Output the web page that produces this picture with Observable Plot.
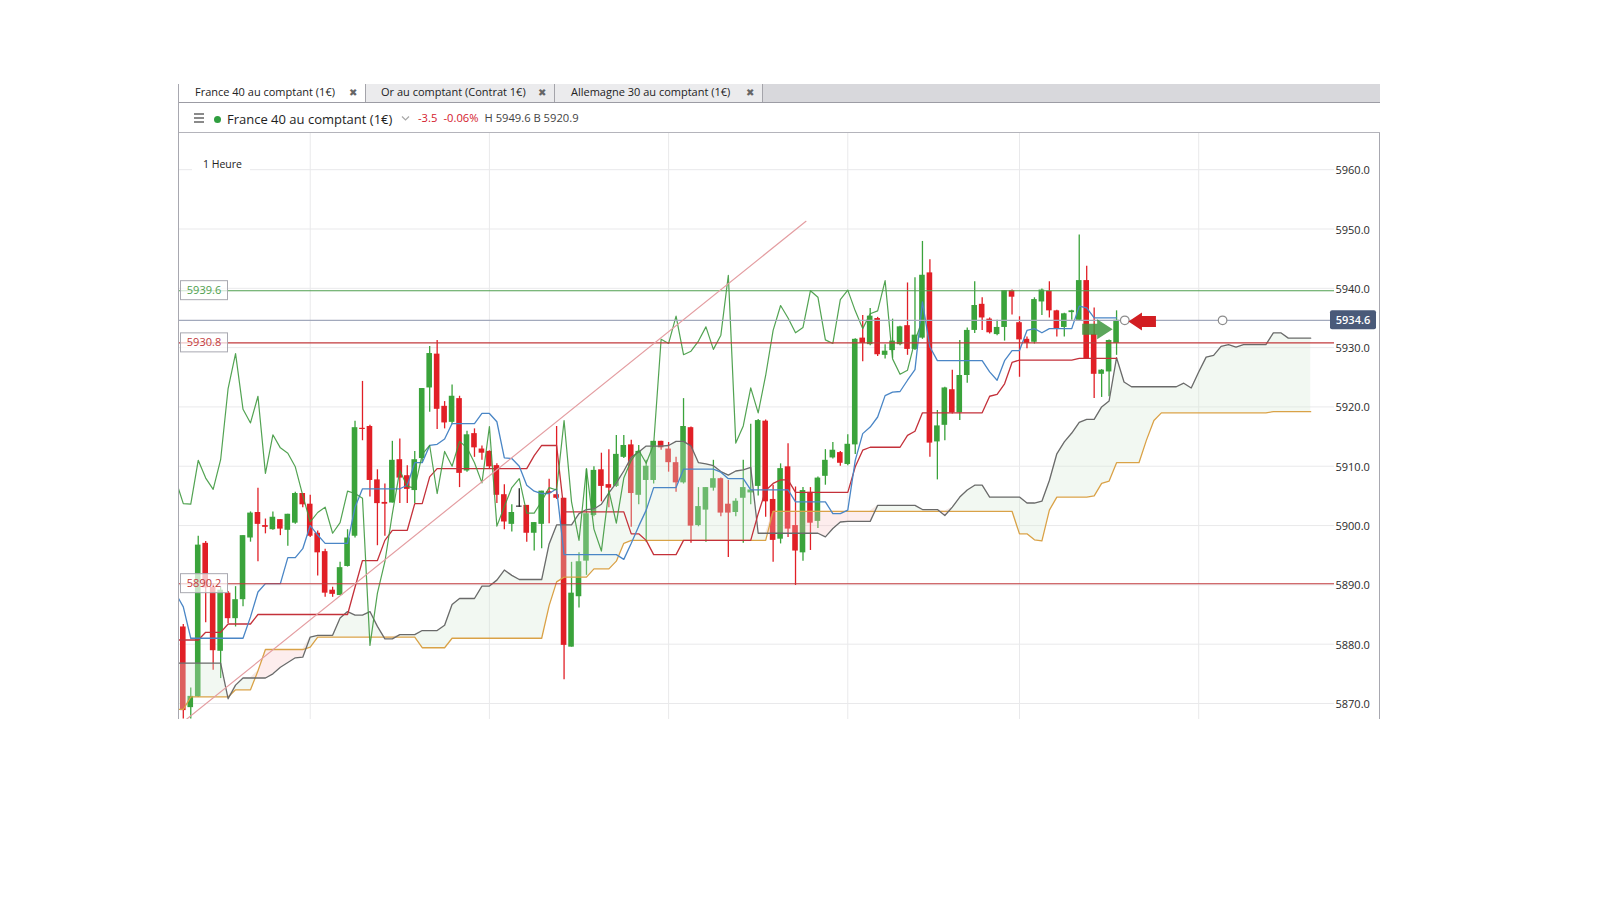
<!DOCTYPE html>
<html>
<head>
<meta charset="utf-8">
<script src="https://cdn.jsdelivr.net/npm/d3@7"></script>
<script src="https://cdn.jsdelivr.net/npm/@observablehq/plot@0.6"></script>
<style>
  html, body { margin: 0; padding: 0; background: #fff; }
  body { font-family: "Open Sans", "Noto Sans", sans-serif; }
  #page { position: relative; width: 1600px; height: 900px; overflow: hidden; background: #fff; }
  .abs { position: absolute; }
  #tabbar { left: 179px; top: 84px; width: 1201px; height: 18px; background: #d8d8dc; border-bottom: 1px solid #9c9ca4; box-sizing: content-box; }
  .tab { position: absolute; top: 0; height: 18px; background: #ebebed; border-right: 1px solid #a4a4aa; box-sizing: border-box; }
  .tab.active { background: #fff; }
  .tab .lbl { position: absolute; top: -1px; line-height: 18px; font-size: 11px; color: #222; white-space: nowrap; }
  .tab .x { position: absolute; top: 0; line-height: 18px; font-size: 10px; font-weight: bold; color: #666; font-family: "DejaVu Sans", sans-serif; }
  .hdr { position: absolute; white-space: nowrap; line-height: 18px; height: 18px; }
  #vleft { left: 178px; top: 84px; width: 1px; height: 635px; background: #a8a8b0; }
  #vright { left: 1379px; top: 132px; width: 1px; height: 587px; background: #a8a8b0; }
  #htop { left: 179px; top: 132px; width: 1201px; height: 1px; background: #b4b4bb; }
  #chart { left: 179px; top: 133px; }
  #period { left: 192px; top: 153px; width: 58px; height: 22px; background: #fff; font-size: 10.5px; line-height: 22px; color: #222; padding-left: 11px; box-sizing: border-box; }
</style>
</head>
<body>
<div id="page">
  <div id="tabbar" class="abs">
    <div class="tab active" style="left:0;width:187px;"><span class="lbl" style="left:16px;">France 40 au comptant (1€)</span><span class="x" style="left:170px;">✖</span></div>
    <div class="tab" style="left:187px;width:189px;"><span class="lbl" style="left:15px;">Or au comptant (Contrat 1€)</span><span class="x" style="left:172px;">✖</span></div>
    <div class="tab" style="left:376px;width:208px;"><span class="lbl" style="left:16px;">Allemagne 30 au comptant (1€)</span><span class="x" style="left:191px;">✖</span></div>
  </div>
  <div id="vleft" class="abs"></div>
  <div id="vright" class="abs"></div>
  <div id="htop" class="abs"></div>

  <!-- instrument header -->
  <div class="abs" style="left:194px;top:113px;width:10px;height:2px;background:#8a8a8a;"></div>
  <div class="abs" style="left:194px;top:117px;width:10px;height:2px;background:#8a8a8a;"></div>
  <div class="abs" style="left:194px;top:121px;width:10px;height:2px;background:#8a8a8a;"></div>
  <div class="abs" style="left:213.5px;top:115.5px;width:7.5px;height:7.5px;border-radius:50%;background:#2f9e3f;"></div>
  <div id="title" class="hdr" style="left:227px;top:110px;font-size:13px;color:#1e1e1e;">France 40 au comptant (1€)</div>
  <svg class="abs" style="left:401px;top:115px;" width="9" height="7"><path d="M1,1.5 L4.5,5 L8,1.5" fill="none" stroke="#a8a8a8" stroke-width="1.2"/></svg>
  <div class="hdr" style="left:418px;top:109px;font-size:11.2px;color:#d4202c;">-3.5</div>
  <div class="hdr" style="left:443.5px;top:109px;font-size:11.2px;color:#d4202c;">-0.06%</div>
  <div class="hdr" style="left:484.5px;top:109px;font-size:11.2px;color:#444;">H 5949.6 B 5920.9</div>

  <div id="chart" class="abs"></div>
  <div id="period" class="abs">1 Heure</div>
</div>

<script>
// ---------------- DATA ----------------
// Hourly candles, index 0 = leftmost visible candle
const open = [
  5882.9,5869.3,5871.1,5897.0,5889.6,5878.8,5888.6,5884.3,5887.5,5897.9,
  5902.2,5900.0,5899.3,5901.0,5899.2,5900.4,5905.4,5903.6,5898.7,5895.6,
  5889.1,5888.2,5893.1,5898.2,5916.4,5916.7,5907.7,5903.9,5903.8,5911.1,
  5908.4,5905.9,5911.3,5923.2,5928.9,5920.1,5917.4,5921.4,5909.2,5915.5,
  5912.9,5912.5,5910.1,5905.2,5900.2,5903.1,5903.4,5898.7,5900.2,5905.7,
  5905.2,5904.6,5879.5,5888.0,5894.0,5901.7,5909.4,5906.9,5906.6,5911.5,
  5913.6,5905.1,5907.6,5907.6,5914.2,5912.9,5910.6,5907.2,5916.5,5900.0,
  5902.6,5906.3,5907.9,5903.6,5902.2,5904.6,5905.5,5906.6,5917.6,5904.4,
  5897.7,5909.9,5900.0,5895.4,5905.6,5900.7,5908.3,5911.4,5912.3,5910.3,
  5913.6,5931.6,5930.5,5934.9,5928.7,5929.5,5930.5,5933.7,5929.7,5931.6,
  5942.6,5914.1,5916.9,5922.9,5919.0,5925.3,5932.9,5937.3,5934.8,5932.2,
  5933.4,5939.6,5934.2,5931.4,5930.9,5937.7,5939.5,5936.2,5933.4,5935.9,
  5934.6,5941.3,5932.2,5925.5,5925.9,5930.7
];
const high = [
  5883.3,5872.6,5898.2,5897.3,5890.2,5889.6,5888.9,5889.7,5898.3,5902.3,
  5906.3,5901.1,5902.3,5901.0,5901.9,5905.6,5905.4,5905.1,5899.1,5896.0,
  5889.6,5893.8,5899.3,5917.6,5924.3,5916.9,5909.4,5907.0,5914.2,5914.6,
  5910.1,5912.5,5923.1,5930.2,5931.2,5920.9,5923.7,5921.8,5915.9,5916.3,
  5913.4,5912.6,5910.4,5906.9,5903.5,5906.2,5903.4,5900.5,5905.8,5907.8,
  5916.7,5904.6,5893.8,5895.4,5909.5,5909.9,5912.2,5912.8,5915.2,5915.2,
  5914.4,5913.5,5911.0,5914.2,5914.2,5914.0,5911.5,5921.4,5916.6,5906.4,
  5906.4,5911.0,5908.0,5907.6,5904.5,5911.0,5917.1,5917.9,5917.8,5906.8,
  5910.4,5913.8,5906.5,5906.4,5906.4,5908.2,5912.8,5914.0,5912.5,5915.3,
  5931.5,5935.4,5936.6,5935.1,5930.5,5934.8,5933.6,5940.9,5941.8,5947.9,
  5944.8,5919.4,5923.3,5926.2,5931.2,5933.3,5941.1,5938.4,5935.0,5934.6,
  5939.6,5939.7,5935.2,5931.8,5938.4,5939.9,5941.1,5936.3,5935.8,5936.3,
  5949.0,5943.7,5936.7,5926.3,5931.3,5936.2
];
const low = [
  5867.4,5867.4,5871.0,5883.6,5875.6,5874.2,5883.5,5882.9,5886.3,5897.2,
  5893.9,5898.6,5899.2,5898.3,5896.5,5900.2,5903.0,5898.0,5891.5,5887.9,
  5887.9,5888.2,5893.0,5897.9,5914.3,5904.8,5896.6,5898.2,5903.8,5903.7,
  5903.7,5903.7,5910.5,5919.1,5916.2,5916.3,5917.0,5906.4,5909.0,5911.5,
  5911.0,5909.5,5903.7,5899.3,5898.9,5903.1,5897.2,5895.7,5896.1,5900.3,
  5904.4,5874.0,5879.5,5886.1,5891.6,5901.5,5904.0,5903.0,5906.4,5911.3,
  5899.7,5903.5,5897.2,5907.0,5912.7,5909.0,5905.6,5907.0,5897.0,5899.8,
  5897.2,5905.8,5901.5,5894.6,5901.5,5897.0,5903.5,5905.0,5901.4,5893.8,
  5896.9,5898.0,5889.9,5894.0,5895.8,5899.5,5906.8,5911.2,5910.0,5910.1,
  5912.0,5927.6,5930.3,5928.5,5928.1,5928.2,5930.3,5928.7,5929.5,5931.4,
  5911.5,5907.7,5914.3,5918.8,5917.7,5924.0,5932.4,5932.9,5932.3,5932.0,
  5931.1,5935.5,5925.0,5929.8,5930.6,5935.4,5935.0,5931.8,5931.8,5934.6,
  5934.5,5928.0,5921.4,5921.6,5921.7,5928.7
];
const close = [
  5868.8,5871.2,5896.7,5889.5,5878.9,5889.1,5884.3,5887.5,5898.3,5902.1,
  5900.2,5899.7,5901.4,5899.4,5901.9,5905.4,5903.5,5898.2,5895.4,5888.6,
  5888.4,5892.9,5897.9,5916.5,5916.2,5907.6,5903.7,5903.6,5911.0,5908.0,
  5906.1,5911.1,5923.1,5929.0,5919.6,5917.3,5921.8,5908.8,5915.3,5913.1,
  5912.2,5909.9,5905.1,5900.6,5902.2,5903.1,5898.7,5900.5,5905.8,5905.4,
  5904.6,5879.8,5888.6,5893.9,5902.0,5909.3,5906.6,5906.3,5912.0,5913.5,
  5905.4,5912.5,5910.0,5914.2,5913.1,5910.6,5907.2,5916.7,5899.9,5903.2,
  5906.4,5907.9,5902.1,5902.1,5904.1,5906.4,5906.0,5917.7,5904.0,5897.5,
  5909.6,5899.4,5895.7,5905.9,5900.4,5908.0,5911.0,5912.7,5910.5,5913.7,
  5931.4,5930.7,5935.3,5928.8,5929.4,5931.1,5933.5,5929.7,5932.1,5942.2,
  5913.9,5916.8,5923.2,5919.0,5925.3,5932.9,5937.1,5935.0,5932.5,5933.4,
  5939.6,5938.5,5931.3,5930.7,5938.1,5939.7,5936.2,5933.2,5935.7,5936.2,
  5941.3,5928.1,5925.5,5926.2,5931.2,5934.6
];

// Ichimoku lines, one value per candle index, starting at index -1
const lineStart = -1;
const tenkan = [
  5888.5,5886.3,5881.0,5881.0,5881.0,5881.0,5881.0,5881.0,5881.0,5881.0,
  5884.6,5888.8,5890.2,5890.2,5890.2,5894.6,5894.6,5896.1,5900.0,5898.4,
  5897.0,5897.0,5897.0,5897.0,5903.1,5906.2,5906.2,5906.2,5906.2,5906.2,
  5906.2,5906.8,5910.6,5910.6,5913.5,5913.7,5914.6,5917.2,5917.2,5917.2,
  5917.2,5918.9,5918.9,5917.5,5911.4,5911.3,5910.0,5906.8,5905.8,5905.4,
  5905.4,5906.2,5895.1,5895.1,5895.1,5895.1,5895.1,5895.1,5895.1,5895.1,
  5894.3,5897.0,5899.9,5902.6,5906.4,5906.4,5906.4,5906.4,5909.5,5909.5,
  5909.5,5909.5,5909.5,5909.0,5907.9,5907.9,5907.9,5906.0,5906.0,5906.0,
  5906.0,5906.0,5906.0,5904.0,5904.0,5904.0,5904.0,5904.0,5902.0,5902.0,
  5902.6,5911.0,5915.5,5916.6,5918.3,5921.9,5922.5,5922.6,5924.5,5926.3,
  5937.7,5930.1,5927.8,5927.8,5927.8,5927.8,5927.8,5927.8,5927.8,5925.9,
  5924.5,5927.8,5929.5,5929.5,5932.9,5933.2,5932.5,5933.2,5933.2,5933.2,
  5933.2,5937.0,5936.7,5935.0,5935.0,5935.0,5935.0
];
const kijun = [
  5880.7,5880.7,5880.7,5880.7,5882.0,5882.0,5882.0,5883.4,5883.4,5883.4,
  5883.4,5885.0,5885.0,5885.0,5885.0,5885.0,5885.0,5885.0,5885.0,5885.0,
  5885.0,5885.0,5885.0,5885.0,5889.6,5894.1,5894.1,5894.1,5897.5,5899.2,
  5899.2,5899.2,5903.7,5903.7,5908.2,5909.6,5909.6,5909.6,5909.6,5909.6,
  5909.6,5909.6,5909.6,5909.6,5909.6,5909.6,5909.6,5909.6,5911.8,5913.5,
  5913.5,5913.5,5902.3,5902.3,5902.3,5902.3,5902.3,5902.3,5902.3,5902.3,
  5902.3,5898.6,5898.6,5897.5,5895.1,5895.1,5895.1,5895.1,5897.5,5897.5,
  5897.5,5897.5,5897.5,5897.5,5897.5,5897.5,5897.5,5897.5,5902.0,5905.9,
  5907.1,5907.7,5907.7,5905.6,5905.6,5905.6,5905.6,5905.6,5905.6,5905.6,
  5905.6,5909.9,5912.7,5913.2,5913.2,5913.2,5913.2,5913.2,5915.2,5915.9,
  5919.0,5919.0,5919.0,5919.0,5919.0,5919.0,5919.0,5919.0,5919.0,5921.8,
  5922.1,5923.9,5927.5,5927.9,5927.9,5927.9,5927.9,5927.9,5927.9,5927.9,
  5927.9,5928.2,5928.2,5928.2,5928.2,5928.2,5928.2
];
// leading spans (already displaced 26 periods ahead)
const senkouA = [
  5876.8,5876.8,5876.8,5876.8,5876.8,5876.8,5876.8,5870.8,5873.1,5874.3,
  5874.3,5874.3,5874.3,5875.0,5876.1,5876.9,5877.7,5877.8,5881.2,5881.5,
  5881.5,5881.5,5884.4,5885.5,5884.9,5884.9,5885.5,5883.0,5880.9,5880.9,
  5881.6,5881.6,5881.6,5882.3,5882.3,5882.3,5883.2,5886.7,5887.7,5887.7,
  5887.7,5889.8,5889.8,5890.8,5892.5,5891.6,5890.9,5890.9,5890.9,5890.9,
  5896.9,5900.1,5900.1,5900.1,5902.0,5902.7,5902.8,5903.6,5905.5,5907.2,
  5909.2,5911.5,5912.4,5913.4,5913.4,5913.4,5913.5,5914.2,5914.2,5913.4,
  5910.6,5910.4,5910.1,5909.1,5908.5,5909.2,5909.4,5909.8,5898.7,5898.7,
  5898.7,5898.7,5898.7,5898.7,5898.7,5898.7,5898.7,5898.1,5899.5,5900.6,
  5900.7,5900.7,5900.7,5900.7,5903.4,5903.4,5903.4,5903.4,5903.4,5903.4,
  5902.7,5902.7,5902.7,5901.7,5903.1,5904.8,5906.0,5906.8,5906.8,5904.8,
  5904.8,5904.8,5904.8,5904.8,5903.8,5903.8,5904.1,5907.6,5912.1,5914.1,
  5915.6,5917.4,5917.9,5917.9,5920.0,5921.0,5928.3,5924.2,5923.4,5923.4,
  5923.4,5923.4,5923.4,5923.4,5923.4,5924.0,5923.2,5925.9,5928.4,5928.7,
  5930.2,5930.5,5930.1,5930.5,5930.5,5930.5,5930.5,5932.5,5932.5,5931.6,
  5931.6,5931.6,5931.6
];
const senkouB = [
  5869.0,5869.0,5871.1,5871.1,5871.1,5871.1,5871.1,5871.1,5872.3,5872.3,
  5872.3,5875.5,5879.1,5879.1,5879.1,5879.1,5879.1,5879.1,5879.5,5881.2,
  5881.2,5881.2,5881.2,5881.2,5881.2,5881.2,5881.2,5881.2,5881.2,5881.2,
  5881.2,5881.2,5881.2,5879.4,5879.4,5879.4,5879.4,5881.0,5881.0,5881.0,
  5881.0,5881.0,5881.0,5881.0,5881.0,5881.0,5881.0,5881.0,5881.0,5881.0,
  5886.5,5890.5,5891.3,5891.3,5891.3,5891.3,5892.7,5892.7,5892.7,5894.0,
  5897.0,5897.5,5897.5,5897.5,5897.5,5897.5,5897.5,5897.5,5897.5,5897.5,
  5897.5,5897.5,5897.5,5897.5,5897.5,5897.5,5897.5,5897.5,5897.5,5897.5,
  5902.4,5902.4,5902.4,5902.4,5902.4,5902.4,5902.4,5902.4,5902.4,5902.4,
  5902.4,5902.4,5902.4,5902.4,5902.4,5902.4,5902.4,5902.4,5902.4,5902.4,
  5902.4,5902.4,5902.4,5902.4,5902.4,5902.4,5902.4,5902.4,5902.4,5902.4,
  5902.4,5902.4,5902.4,5898.6,5898.6,5897.6,5897.4,5902.6,5904.8,5904.8,
  5904.8,5904.8,5904.8,5905.0,5907.1,5907.5,5910.6,5910.6,5910.6,5910.6,
  5914.4,5917.7,5919.0,5919.0,5919.0,5919.0,5919.0,5919.0,5919.0,5919.0,
  5919.0,5919.0,5919.0,5919.0,5919.0,5919.0,5919.0,5919.2,5919.2,5919.2,
  5919.2,5919.2,5919.2
];
const chikouLag = 26; // lagging span = close plotted 26 periods back

// horizontal levels drawn on the chart
const supportResistance = [5939.6, 5930.8, 5890.2];
const lastPrice = 5934.6;
// trend line drawn by the user: two anchor points (candle index, price)
const trendIdx = [-0.5, 83.4];
const trendPrice = [5866.4, 5951.3];
// user annotations: handles on the price line and two arrows
const handleIdx = [126.1, 139.2];
const arrowIdx = [122.4, 128.4];
const arrowPrice = [5933.1, 5934.4];
const arrowDir = ["right", "left"];

// axis ticks
const yTicks = [5870, 5880, 5890, 5900, 5910, 5920, 5930, 5940, 5950, 5960];
const dayGridIdx = [17, 41, 65, 89, 112, 136];

// ---------------- BUILD ----------------
const candles = open.map((o, i) => ({ i, o, h: high[i], l: low[i], c: close[i] }));
const ichi = tenkan.map((t, k) => ({ i: k + lineStart, t, k: kijun[k] }));
const cloud = senkouA.map((a, k) => ({ i: k + lineStart, a, b: senkouB[k] }));
const chikou = close.slice(chikouLag + lineStart).map((c, k) => ({ i: k + lineStart, c }));
const levelData = supportResistance.map(p => ({ p }));
const trend = trendIdx.map((i, k) => ({ i, p: trendPrice[k] }));
const handles = handleIdx.map(i => ({ i, p: lastPrice }));
const arrows = arrowIdx.map((i, k) => ({ i, p: arrowPrice[k], dir: arrowDir[k] }));

const UP = "#3aa33b", DOWN = "#e11f26", FLAT = "#222";
const candleColor = d => d.c > d.o ? UP : d.c < d.o ? DOWN : FLAT;
const levelColor = p => p > lastPrice ? "#4f9f4f" : "#c23a3c";

const arrowRight = { draw(ctx) { ctx.moveTo(-15, -5.5); ctx.lineTo(0, -5.5); ctx.lineTo(0, -10); ctx.lineTo(15.5, 0); ctx.lineTo(0, 10); ctx.lineTo(0, 5.5); ctx.lineTo(-15, 5.5); ctx.closePath(); } };
const arrowLeft = { draw(ctx) { ctx.moveTo(14, -5.5); ctx.lineTo(0, -5.5); ctx.lineTo(0, -9); ctx.lineTo(-13.5, 0); ctx.lineTo(0, 9); ctx.lineTo(0, 5.5); ctx.lineTo(14, 5.5); ctx.closePath(); } };

const W = 1201, H = 586, MR = 46;
const plot = Plot.plot({
  width: W, height: H,
  marginLeft: 0, marginRight: MR, marginTop: 0, marginBottom: 0,
  style: { fontFamily: "'Open Sans', sans-serif", fontSize: "11px", color: "#333", background: "transparent", overflow: "visible" },
  x: { domain: [-0.509, 154.19], axis: null },
  y: { domain: [5867.3, 5966.1], axis: null },
  marks: [
    Plot.gridY(yTicks, { stroke: "#e9e9eb", strokeOpacity: 1 }),
    Plot.gridX(dayGridIdx, { stroke: "#e9e9eb", strokeOpacity: 1 }),
    Plot.axisY(yTicks, { anchor: "right", tickSize: 0, tickPadding: 1, tickFormat: d => d.toFixed(1), fontSize: 11, fill: "#2a2a2a", dy: 1 }),
    // candles
    Plot.ruleX(candles, { x: "i", y1: "l", y2: "h", stroke: candleColor, strokeWidth: 1.3, clip: true }),
    Plot.rect(candles, {
      x1: d => d.i - 0.375, x2: d => d.i + 0.375,
      y1: d => Math.min(d.o, d.c), y2: d => Math.max(Math.max(d.o, d.c), Math.min(d.o, d.c) + 0.18),
      fill: candleColor, clip: true
    }),
    // kumo (translucent, drawn over candles)
    Plot.areaY(cloud, { x: "i", y1: "b", y2: d => Math.max(d.a, d.b), fill: "rgb(214,232,214)", fillOpacity: 0.32, clip: true }),
    Plot.areaY(cloud, { x: "i", y1: "a", y2: d => Math.max(d.a, d.b), fill: "rgb(250,196,196)", fillOpacity: 0.3, clip: true }),
    Plot.line(cloud, { x: "i", y: "b", stroke: "#d9a247", strokeWidth: 1.3, clip: true }),
    Plot.line(cloud, { x: "i", y: "a", stroke: "#6a6a6a", strokeWidth: 1.3, clip: true }),
    // conversion / base lines
    Plot.line(ichi, { x: "i", y: "k", stroke: "#c4313a", strokeWidth: 1.3, clip: true }),
    Plot.line(ichi, { x: "i", y: "t", stroke: "#4a86c6", strokeWidth: 1.3, clip: true }),
    // lagging span
    Plot.line(chikou, { x: "i", y: "c", stroke: "#3f993f", strokeWidth: 1.2, strokeOpacity: 0.9, clip: true }),
    // horizontal levels
    Plot.ruleY(levelData, { y: "p", stroke: d => levelColor(d.p), strokeWidth: 1.1 }),
    Plot.ruleY([lastPrice], { stroke: "#a2a9bc", strokeWidth: 1.2 }),
    // trend line
    Plot.line(trend, { x: "i", y: "p", stroke: "#e49ea2", strokeWidth: 1.2, clip: true }),
    // annotations
    Plot.dot(handles, { x: "i", y: "p", r: 4.3, stroke: "#8c8c8c", fill: "#fff", strokeWidth: 1.2 }),
    Plot.dot(arrows, { x: "i", y: "p", symbol: d => d.dir === "right" ? arrowRight : arrowLeft, fill: d => d.dir === "right" ? "rgba(62,150,62,0.85)" : "#d21e22", stroke: "none", r: 6 })
  ]
});
document.getElementById("chart").appendChild(plot);

// price tags using the plot's own y scale
const ys = plot.scale("y");
const svg = d3.select(plot);
const tags = svg.append("g").attr("font-family", "'Open Sans', sans-serif").attr("font-size", 11);
supportResistance.forEach(p => {
  const y = ys.apply(p);
  tags.append("rect").attr("x", 1.5).attr("y", y - 9.5).attr("width", 47).attr("height", 19)
    .attr("fill", "#fff").attr("fill-opacity", 0.72).attr("stroke", "#a9a9b1").attr("stroke-width", 1);
  tags.append("text").attr("x", 25).attr("y", y).attr("dy", "0.36em").attr("text-anchor", "middle")
    .attr("fill", levelColor(p)).text(p.toFixed(1));
});
{
  const y = ys.apply(lastPrice);
  tags.append("rect").attr("x", 1151).attr("y", y - 9.5).attr("width", 46).attr("height", 19).attr("rx", 2)
    .attr("fill", "#4a5a79");
  tags.append("text").attr("x", 1174).attr("y", y).attr("dy", "0.36em").attr("text-anchor", "middle")
    .attr("fill", "#fff").attr("font-weight", 600).text(lastPrice.toFixed(1));
}
</script>
</body>
</html>
